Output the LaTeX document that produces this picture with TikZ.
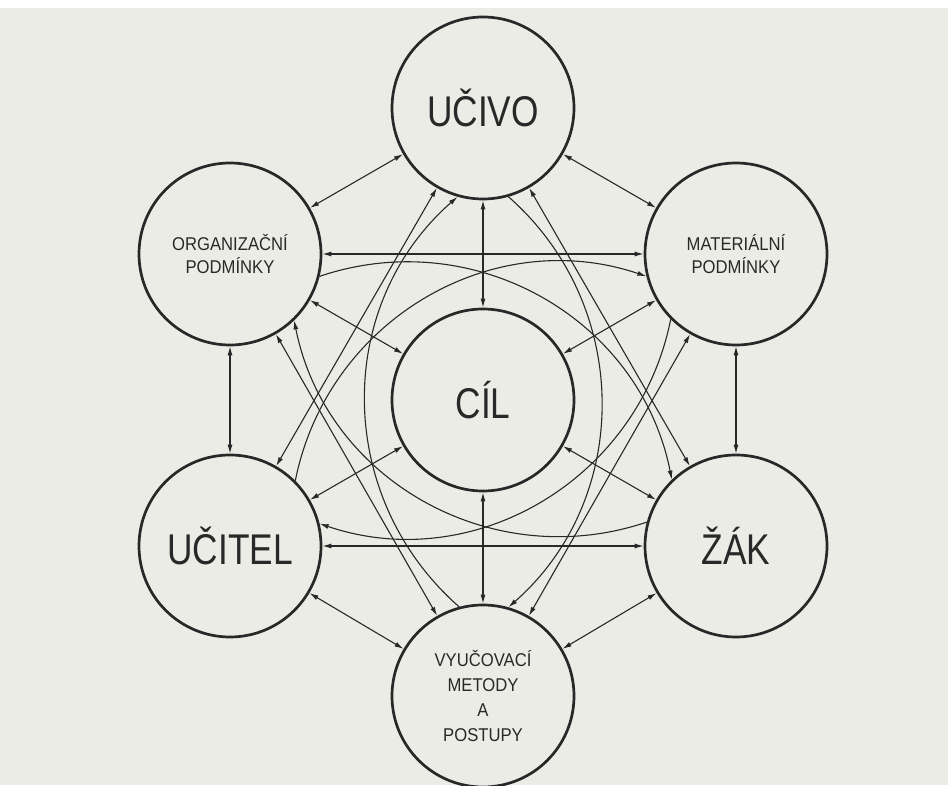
\documentclass[tikz,border=0pt]{standalone}
\usepackage{fontspec}
\newfontfamily\bigfont[FakeStretch=0.82]{Liberation Sans}
\newfontfamily\smallfont[FakeStretch=0.9]{Liberation Sans}
\usetikzlibrary{arrows.meta}
\definecolor{paper}{RGB}{236,236,231}
\definecolor{ink}{RGB}{40,40,40}
\begin{document}
\begin{tikzpicture}[x=1pt,y=1pt,
  comp/.style={circle, draw=ink, line width=2.7pt, minimum size=182pt, inner sep=0pt, text=ink, align=center},
  big/.style={font=\bigfont\fontsize{43}{48}\selectfont},
  small/.style={font=\smallfont\fontsize{18.5}{23}\selectfont},
  smallv/.style={font=\smallfont\fontsize{18.5}{25}\selectfont},
  link/.style={draw=ink, line width=1.1pt, {Latex[length=9pt,width=5pt]}-{Latex[length=9pt,width=5pt]}},
  arcl/.style={draw=ink, line width=1.1pt, -{Latex[length=9pt,width=5pt]}, looseness=1.03}
]
\fill[paper] (0,0) rectangle (948,785);
\fill[white] (0,777) rectangle (948,785);
\useasboundingbox (0,0) rectangle (948,785);

\node[comp,big] (C) at (483,385) {CÍL};
\node[comp,big] (U) at (483,677) {UČIVO};
\node[comp,smallv] (V) at (483,89) {VYUČOVACÍ\\METODY\\A\\POSTUPY};
\node[comp,small] (O) at (230,531) {ORGANIZAČNÍ\\PODMÍNKY};
\node[comp,small] (M) at (736,531) {MATERIÁLNÍ\\PODMÍNKY};
\node[comp,big] (T) at (230,239) {UČITEL};
\node[comp,big] (Z) at (736,239) {ŽÁK};

% straight two-way connectors
\draw[link] (U) -- (O);
\draw[link] (U) -- (M);
\draw[link] (U) -- (C);
\draw[link] (U) -- (T);
\draw[link] (U) -- (Z);
\draw[link] (O) -- (M);
\draw[link] (O) -- (C);
\draw[link] (O) -- (T);
\draw[link] (O) -- (V);
\draw[link] (M) -- (C);
\draw[link] (M) -- (Z);
\draw[link] (M) -- (V);
\draw[link] (C) -- (T);
\draw[link] (C) -- (Z);
\draw[link] (C) -- (V);
\draw[link] (T) -- (Z);
\draw[link] (T) -- (V);
\draw[link] (Z) -- (V);

% arcs around the centre
\draw[arcl] (U.-74.8) to[out=-41.3,in=41.3] (V.74.8);
\draw[arcl] (O.-14.8) to[out=18.7,in=101.3] (Z.134.8);
\draw[arcl] (T.45.2) to[out=78.7,in=161.3] (M.194.8);
\draw[arcl] (V.105.2) to[out=138.7,in=221.3] (U.254.8);
\draw[arcl] (Z.165.2) to[out=198.7,in=281.3] (O.314.8);
\draw[arcl] (M.225.2) to[out=258.7,in=341.3] (T.14.8);
\end{tikzpicture}
\end{document}
